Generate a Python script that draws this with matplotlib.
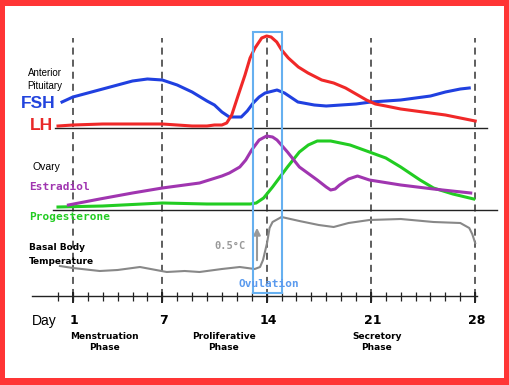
import matplotlib.pyplot as plt
from matplotlib.patches import Rectangle

# hormone levels (arbitrary units above each panel's baseline)
fsh_days = [0.27, 1, 2, 3, 4, 5, 6, 7, 8, 9, 10, 10.5, 11, 11.5, 12.3, 12.7, 13.1, 13.5, 13.9, 14.7, 15.2, 15.6, 16.1, 17.2, 18, 19, 20, 21, 22, 23, 24, 25, 26, 27, 27.6]
fsh = [26, 31, 35, 39, 43, 47, 49, 48, 43, 36, 27, 23, 16, 11, 11, 17, 25, 31, 35, 38, 35, 31, 26, 23, 22, 23, 24, 26, 27, 28, 30, 32, 36, 39, 40]

lh_days = [0, 1, 3, 5, 7, 9, 10, 10.5, 11, 11.32, 11.66, 12.1, 12.55, 12.89, 13.22, 13.67, 14.0, 14.3, 14.68, 15.01, 15.46, 16.13, 16.78, 17.7, 18.5, 19.3, 20, 20.7, 21.3, 22, 23, 24, 25, 26, 27, 28]
lh = [2, 3, 4, 4, 4, 2, 2, 3, 3, 5, 13, 33, 53, 70, 80, 90, 92, 91, 86, 78, 70, 61, 55, 48, 45, 40, 34, 28, 24, 22, 19, 17, 15, 13, 10, 7]

estr_days = [0.7, 2.8, 5, 7, 9.5, 11, 11.5, 12.2, 12.6, 13, 13.5, 14, 14.4, 14.7, 15.4, 16.2, 17.4, 18, 18.3, 18.6, 18.9, 19.5, 20.1, 20.9, 23, 25.2, 27.7]
estradiol = [5, 11, 17, 22, 27, 34, 37, 43, 50, 60, 70, 74, 73, 70, 58, 43, 30, 23, 20, 21, 25, 31, 34, 30, 25, 21, 17]

prog_days = [0, 3, 7, 10, 12.9, 13.3, 13.8, 14.4, 15.4, 16.2, 16.8, 17.4, 18.3, 19.6, 20.9, 22, 23, 24.3, 25.2, 26.5, 27.9]
progesterone = [3, 4, 7, 6, 6, 7, 12, 23, 43, 58, 65, 69, 69, 65, 58, 52, 43, 30, 22, 16, 11]

bbt_days = [0.13, 1, 2.8, 4, 5.5, 7.3, 8.5, 9.5, 11, 12.2, 13.2, 13.56, 13.76, 14.03, 14.2, 14.4, 15, 16.2, 17.5, 18.5, 19.5, 20.9, 23, 25.2, 27, 27.6, 27.8, 28]
bbt = [30, 28, 25, 26, 29, 24, 25, 24, 27, 29, 27, 29, 36, 53, 68, 74, 79, 75, 71, 69, 73, 76, 77, 74, 73, 68, 62, 53]

marked_days = [1, 7, 14, 21, 28]
phases = [(3.09, 'Menstruation\nPhase'), (11.14, 'Proliferative\nPhase'), (21.4, 'Secretory\nPhase')]

# panel baselines
top_base, mid_base, bot_base = 250, 168, 82

def day(px):
    return (px - 58) / 14.9

fig = plt.figure(figsize=(5.09, 3.85), dpi=100, facecolor='#ff3535')
ax = fig.add_axes([5/509, 7/385, 499/509, 372/385])
ax.set_facecolor('white')
ax.set_xlim(day(5), day(504))
ax.set_ylim(0, 372)
for s in ax.spines.values():
    s.set_visible(False)
ax.set_xticks([])
ax.set_yticks([])

# dashed day markers
for d in marked_days:
    ax.plot([d, d], [bot_base, 340], color='#333333', lw=1.1, ls=(0, (4.6, 3.3)), zorder=1)

# separators and day axis
ax.plot([day(55), day(487)], [top_base, top_base], color='#222222', lw=1, zorder=1)
ax.plot([day(53), day(497)], [mid_base, mid_base], color='#222222', lw=1, zorder=1)
ax.plot([day(32), day(477)], [bot_base, bot_base], color='#222222', lw=1, zorder=1)
ax.vlines(range(0, 29), bot_base - 5, bot_base + 4, color='#222222', lw=0.9)
ax.vlines(marked_days, bot_base - 7, bot_base + 4, color='#222222', lw=1.4)

# curves
ax.plot(fsh_days, [top_base + v for v in fsh], color='#2040e0', lw=2.2, zorder=3)
ax.plot(lh_days, [top_base + v for v in lh], color='#f02828', lw=2.2, zorder=4)
ax.plot(prog_days, [mid_base + v for v in progesterone], color='#22cc22', lw=2.2, zorder=3)
ax.plot(estr_days, [mid_base + v for v in estradiol], color='#a035b0', lw=2.2, zorder=4)
ax.plot(bbt_days, [bot_base + v for v in bbt], color='#888888', lw=1.5, zorder=3)

# ovulation box
ax.add_patch(Rectangle((day(253), 85), day(282) - day(253), 261, fill=False,
                       edgecolor='#66b0f0', lw=1.5, zorder=5))
ax.text(14.13, 94, 'Ovulation', color='#5a9aee', fontsize=8, fontweight='bold',
        family='DejaVu Sans Mono', ha='center', va='center', zorder=6)

# temperature rise arrow
ax.annotate('', xy=(day(257), 153), xytext=(day(257), 115),
            arrowprops=dict(arrowstyle='-|>', color='#999999', lw=1.5, mutation_scale=10))
ax.text(day(230.5), 132, '0.5°C', color='#999999', fontsize=7.5, fontweight='bold',
        family='DejaVu Sans Mono', ha='center', va='center')

# left labels
ax.text(day(44.5), 305, 'Anterior', fontsize=7, family='Liberation Sans', ha='center', va='center')
ax.text(day(44.5), 292, 'Pituitary', fontsize=7, family='Liberation Sans', ha='center', va='center')
ax.text(day(38.5), 274, 'FSH', fontsize=12.5, fontweight='bold', color='#2244dd',
        family='Liberation Sans', ha='center', va='center')
ax.text(day(41), 253, 'LH', fontsize=12.5, fontweight='bold', color='#e82828',
        family='Liberation Sans', ha='center', va='center')
ax.text(day(46.5), 211, 'Ovary', fontsize=7.5, family='Liberation Sans', ha='center', va='center')
ax.text(day(29), 191, 'Estradiol', fontsize=8, fontweight='bold', color='#a035b0',
        family='DejaVu Sans Mono', ha='left', va='center')
ax.text(day(29), 161, 'Progesterone', fontsize=8, fontweight='bold', color='#22cc22',
        family='DejaVu Sans Mono', ha='left', va='center')
ax.text(day(29), 131, 'Basal Body', fontsize=6.5, fontweight='bold', ha='left', va='center')
ax.text(day(29), 117, 'Temperature', fontsize=6.5, fontweight='bold', ha='left', va='center')

# day labels
ax.text(day(44.5), 57, 'Day', fontsize=10, family='Liberation Sans', ha='center', va='center')
for d in marked_days:
    ax.text(d + 0.1, 57, str(d), fontsize=9, fontweight='bold', ha='center', va='center')
for x, label in phases:
    ax.text(x, 36, label, fontsize=6.5, fontweight='bold', ha='center', va='center',
            linespacing=1.25)

fig.savefig('out.png', dpi=100, facecolor=fig.get_facecolor())
